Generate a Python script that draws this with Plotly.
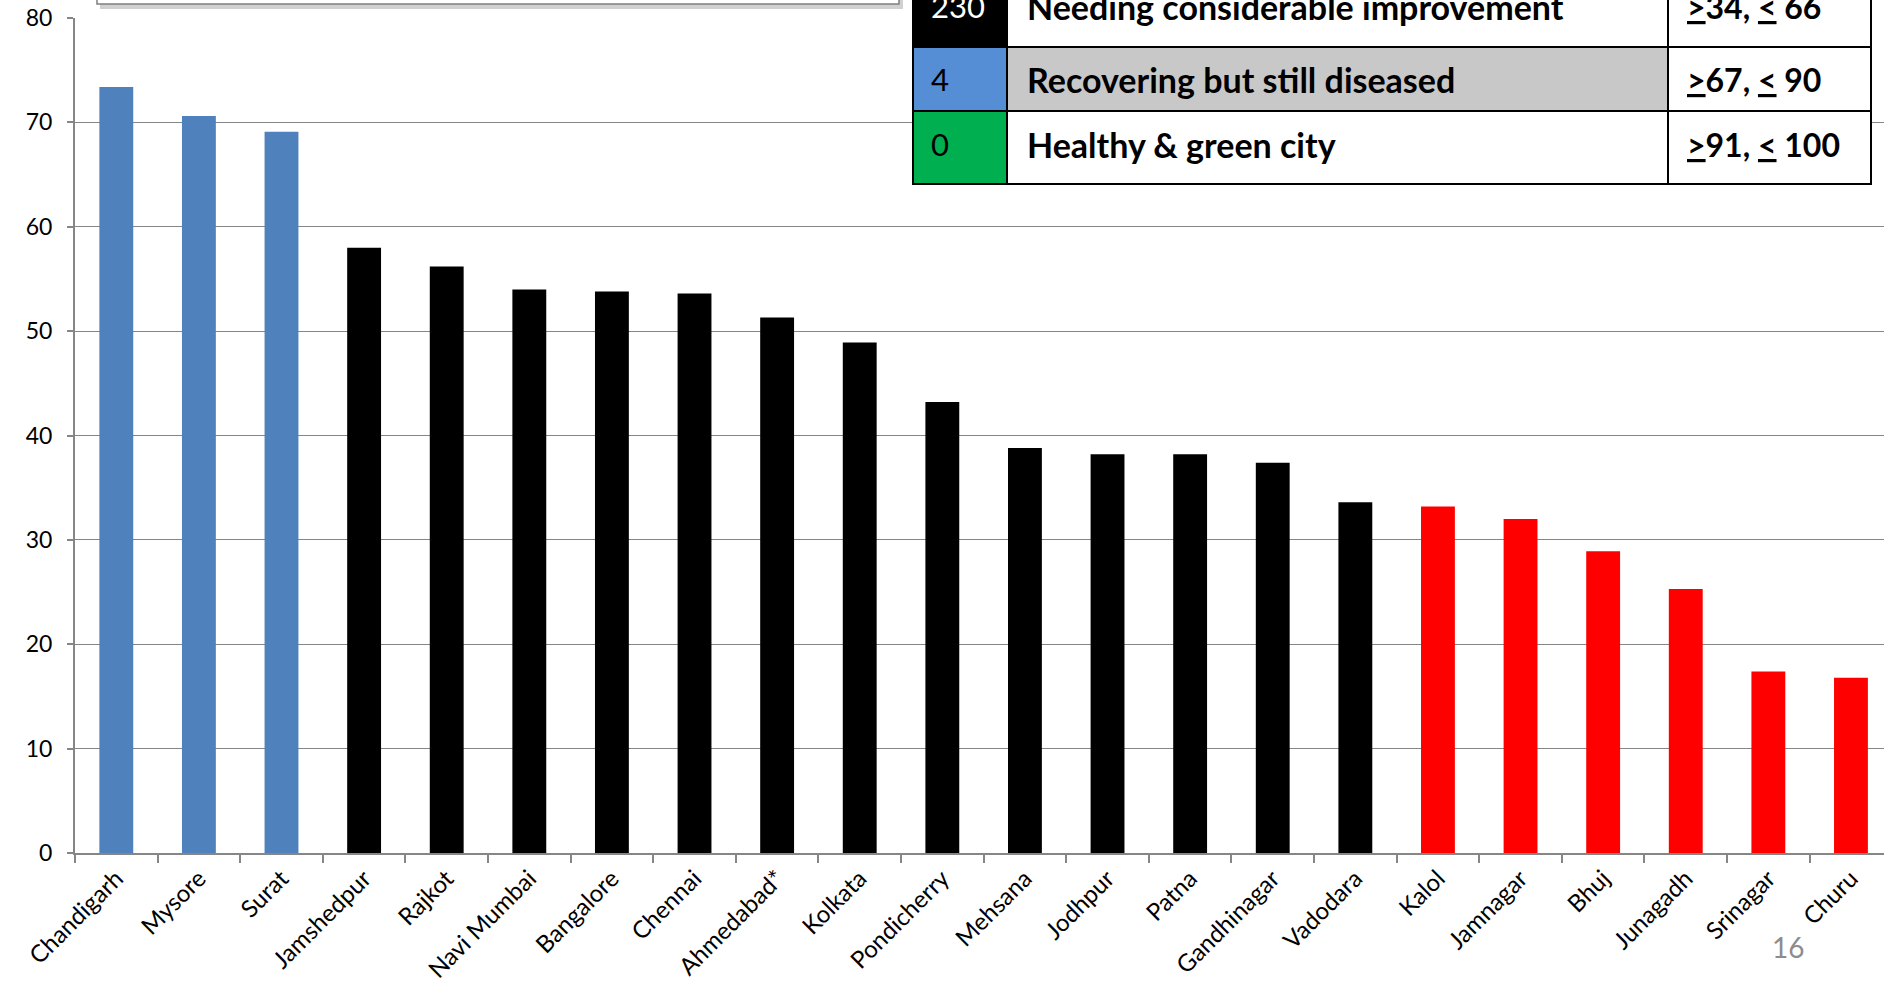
import plotly.graph_objects as go

cities = ["Chandigarh", "Mysore", "Surat", "Jamshedpur", "Rajkot", "Navi Mumbai",
          "Bangalore", "Chennai", "Ahmedabad*", "Kolkata", "Pondicherry", "Mehsana",
          "Jodhpur", "Patna", "Gandhinagar", "Vadodara", "Kalol", "Jamnagar", "Bhuj",
          "Junagadh", "Srinagar", "Churu"]
scores = [73.4, 70.6, 69.1, 58.0, 56.2, 54.0, 53.8, 53.6, 51.3, 48.9, 43.2, 38.8,
          38.2, 38.2, 37.4, 33.6, 33.2, 32.0, 28.9, 25.3, 17.4, 16.8]
groups = ["recovering"] * 3 + ["improvement"] * 13 + ["critical"] * 6
group_colors = {"recovering": "#4F81BD", "improvement": "#000000", "critical": "#FF0000"}

y_ticks = [0, 10, 20, 30, 40, 50, 60, 70, 80]

table_counts = ["230", "4", "0"]
table_labels = ["Needing considerable improvement", "Recovering but still diseased",
                "Healthy & green city"]
table_ranges = ["<u>&gt;</u>34, <u>&lt;</u> 66", "<u>&gt;</u>67, <u>&lt;</u> 90",
                "<u>&gt;</u>91, <u>&lt;</u> 100"]
table_swatch = ["#000000", "#558ED5", "#00B050"]
table_mid_bg = ["#FFFFFF", "#C8C8C8", "#FFFFFF"]
table_count_color = ["#FFFFFF", "#000000", "#000000"]
page_number = "16"

W, H = 1884, 990
ML, MR, MT, MB = 75, 0, 18, 137
PW, PH = W - ML - MR, H - MT - MB


def px(x):
    return (x - ML) / PW


def py(y):
    return (H - MB - y) / PH


fig = go.Figure()
fig.add_trace(go.Bar(
    x=cities, y=scores,
    marker=dict(color=[group_colors[g] for g in groups], line=dict(width=0)),
    width=0.41, showlegend=False, hoverinfo="x+y",
))

shapes = []
annotations = []

# top-left box with shadow (cut off by top edge)
shapes.append(dict(type="rect", xref="paper", yref="paper", layer="above",
                   x0=px(100), x1=px(903), y0=py(9), y1=py(-60),
                   fillcolor="rgba(120,120,120,0.35)", line=dict(width=0)))
shapes.append(dict(type="rect", xref="paper", yref="paper", layer="above",
                   x0=px(97), x1=px(899), y0=py(4), y1=py(-60),
                   fillcolor="#FFFFFF", line=dict(color="#7F7F7F", width=1.5)))

# table
col_x = [913, 1007, 1668, 1871]
row_y = [-25, 47, 111, 184]
text_y = [6, 79, 144]
for i in range(3):
    y0, y1 = row_y[i], row_y[i + 1]
    shapes.append(dict(type="rect", xref="paper", yref="paper", layer="above",
                       x0=px(col_x[0]), x1=px(col_x[1]), y0=py(y1), y1=py(y0),
                       fillcolor=table_swatch[i], line=dict(color="#000000", width=2)))
    shapes.append(dict(type="rect", xref="paper", yref="paper", layer="above",
                       x0=px(col_x[1]), x1=px(col_x[2]), y0=py(y1), y1=py(y0),
                       fillcolor=table_mid_bg[i], line=dict(color="#000000", width=2)))
    shapes.append(dict(type="rect", xref="paper", yref="paper", layer="above",
                       x0=px(col_x[2]), x1=px(col_x[3]), y0=py(y1), y1=py(y0),
                       fillcolor="#FFFFFF", line=dict(color="#000000", width=2)))
    annotations.append(dict(xref="paper", yref="paper", x=px(929), y=py(text_y[i]),
                            xanchor="left", yanchor="middle", showarrow=False,
                            text=table_counts[i],
                            font=dict(family="Lato", size=31, color=table_count_color[i])))
    annotations.append(dict(xref="paper", yref="paper", x=px(1025), y=py(text_y[i]),
                            xanchor="left", yanchor="middle", showarrow=False,
                            text="<b>" + table_labels[i] + "</b>",
                            font=dict(family="Lato", size=34, color="#000000")))
    annotations.append(dict(xref="paper", yref="paper", x=px(1685), y=py(text_y[i]),
                            xanchor="left", yanchor="middle", showarrow=False,
                            text="<b>" + table_ranges[i] + "</b>",
                            font=dict(family="Lato", size=32, color="#000000")))

annotations.append(dict(xref="paper", yref="paper", x=px(1788), y=py(947),
                        xanchor="center", yanchor="middle", showarrow=False,
                        text=page_number,
                        font=dict(family="Lato", size=28, color="#8C8C8C")))

fig.update_layout(
    width=W, height=H,
    margin=dict(l=ML, r=MR, t=MT, b=MB, pad=0),
    paper_bgcolor="#FFFFFF", plot_bgcolor="#FFFFFF",
    bargap=0.59,
    shapes=shapes, annotations=annotations,
    xaxis=dict(
        type="category", range=[-0.5, 21.4], tickangle=-45,
        tickson="boundaries", ticks="outside", ticklen=8, tickcolor="#868686",
        tickwidth=1.5, showline=True, linecolor="#868686", linewidth=2,
        showgrid=False, tickfont=dict(family="Lato", size=24, color="#000000"),
    ),
    yaxis=dict(
        range=[0, 80], tickvals=y_ticks, ticks="outside", ticklen=6,
        tickcolor="#868686", tickwidth=1.5, showline=True, linecolor="#868686",
        linewidth=2, showgrid=True, gridcolor="#868686", gridwidth=1.3,
        zeroline=False, ticklabelstandoff=10,
        tickfont=dict(family="Lato", size=23, color="#000000"),
    ),
    font=dict(family="Lato"),
)

fig.write_html("out.html")
